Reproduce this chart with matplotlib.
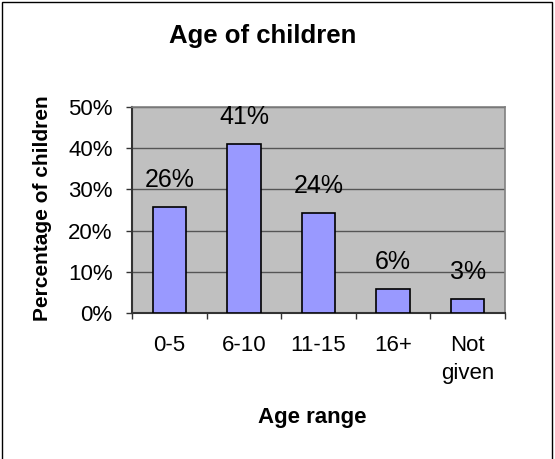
import matplotlib
matplotlib.use("Agg")
import matplotlib.pyplot as plt
import numpy as np

categories = ["0-5", "6-10", "11-15", "16+", "Not\ngiven"]
values = [25.8, 40.9, 24.3, 5.9, 3.4]
y_ticks = [0, 10, 20, 30, 40, 50]
y_tick_labels = ["0%", "10%", "20%", "30%", "40%", "50%"]

plt.rcParams['font.family'] = ['Liberation Sans', 'DejaVu Sans']

W, H = 555, 459
fig = plt.figure(figsize=(W / 100, H / 100), dpi=100)
fig.patch.set_facecolor("white")

# outer border
fig.patches.append(plt.Rectangle((2 / W, -0.05), (W - 5) / W, 1.05 - 2.5 / H,
                                 transform=fig.transFigure, fill=False,
                                 edgecolor="black", linewidth=1.0))

left, right, top, bottom = 132, 505, 107, 313
ax = fig.add_axes([left / W, 1 - bottom / H, (right - left) / W, (bottom - top) / H])
ax.set_facecolor("#C0C0C0")

x = np.arange(len(categories))
ax.bar(x, values, width=0.45, color="#9999FF", edgecolor="black", linewidth=1.2, zorder=3)

ax.set_xlim(-0.5, len(categories) - 0.5)
ax.set_ylim(0, 50)
ax.set_yticks(y_ticks)
ax.set_yticklabels(y_tick_labels, fontsize=16)
ax.yaxis.grid(True, color="#555555", linewidth=1.0, zorder=1)
ax.set_axisbelow(True)

ax.set_xticks(x)
ax.set_xticklabels(categories, fontsize=16, linespacing=1.45)
ax.set_xticks(np.arange(len(categories) + 1) - 0.5, minor=True)
ax.tick_params(axis="x", which="major", length=0, pad=16)
ax.tick_params(axis="x", which="minor", length=4, width=1, color="#333333", direction="out")
ax.tick_params(axis="y", length=4, width=1, color="#333333", pad=10, direction="out")

for side in ["top", "right"]:
    ax.spines[side].set_color("#808080")
    ax.spines[side].set_linewidth(1.2)
for side in ["left", "bottom"]:
    ax.spines[side].set_color("#333333")
    ax.spines[side].set_linewidth(1.5)

for xi, v in zip(x, values):
    ax.annotate(f"{v:.0f}%", xy=(xi, v), xytext=(0, 19.5), textcoords="offset points",
                ha="center", va="center", fontsize=18, zorder=5, annotation_clip=False)

fig.text(263 / W, 1 - 36 / H, "Age of children", ha="center", va="center",
         fontsize=18.5, fontweight="bold")
fig.text(43 / W, 1 - 208 / H, "Percentage of children", ha="center", va="center",
         rotation=90, fontsize=15, fontweight="bold")
fig.text(312 / W, 1 - 417 / H, "Age range", ha="center", va="center",
         fontsize=16, fontweight="bold")

fig.savefig("out.png", dpi=100)
